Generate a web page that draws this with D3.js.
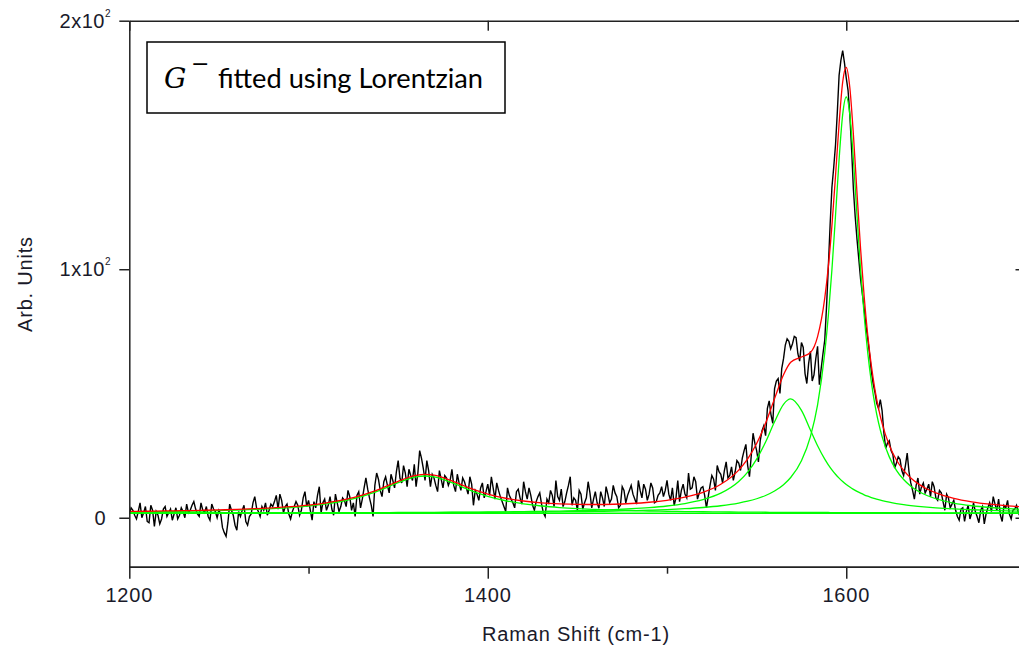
<!DOCTYPE html>
<html><head><meta charset="utf-8">
<script src="https://cdn.jsdelivr.net/npm/d3@7"></script>
<style>body{margin:0;background:#fff;} svg{display:block;}</style>
</head><body>
<svg id="c" width="1019" height="652"></svg>
<script>
// ---------- DATA ----------
// measured spectrum, 1 cm-1 sampling split into even (1200,1202,...) and odd (1201,1203,...) positions
const dataStart = 1200;
const spectrumEven = [
 1.5,3.0,-0.5,6.0,2.0,-1.5,5.0,-3.5,1.0,-0.5,
 4.5,2.0,-1.0,4.0,1.0,2.5,5.5,3.0,6.5,1.5,
 6.0,2.0,0.5,5.5,2.5,3.0,-4.0,-7.5,5.5,1.0,
 -5.0,0.5,5.0,-3.0,1.5,8.5,2.5,4.5,6.0,3.0,
 4.5,9.0,9.5,2.0,5.5,-0.5,4.5,5.0,3.0,10.5,
 7.0,-1.0,4.0,12.5,6.0,3.0,8.5,1.0,6.0,4.5,
 7.0,11.0,3.0,0.5,10.5,7.5,16.0,8.0,0.5,18.0,
 11.0,14.5,13.0,17.5,12.0,23.0,14.0,18.0,19.5,15.0,
 12.5,27.0,20.0,23.0,12.5,16.0,10.5,15.5,17.0,13.0,
 19.5,10.5,14.0,16.0,12.0,16.5,5.0,9.5,12.0,8.0,
 13.5,16.5,7.5,11.0,6.5,2.5,9.0,6.0,10.5,8.0,
 14.5,7.5,9.0,3.0,8.5,5.5,0.5,6.0,9.0,15.0,
 7.0,4.5,10.0,16.5,8.0,3.0,9.5,6.0,14.5,4.0,
 10.5,3.8,8.0,12.5,6.0,13.0,8.5,5.0,11.0,9.0,
 13.0,7.5,15.0,8.0,11.5,9.5,12.0,6.5,10.0,8.5,
 15.0,7.0,5.0,15.0,11.0,9.5,18.0,12.0,14.5,10.0,
 12.5,4.0,13.0,15.5,21.0,17.5,19.0,16.0,20.5,18.5,
 22.0,24.0,29.5,16.5,34.0,27.0,31.0,37.0,44.0,41.5,
 52.0,56.0,60.0,69.5,71.0,70.0,72.5,63.0,68.5,54.0,
 67.0,57.5,69.0,60.0,71.5,101.0,133.0,150.0,178.0,188.0,
 177.0,162.0,132.0,112.0,96.0,84.0,72.0,59.0,50.5,44.0,
 43.0,28.0,31.0,25.5,22.0,23.5,17.0,26.0,14.0,7.5,
 16.0,12.5,10.0,13.5,14.5,8.0,11.0,6.5,9.5,4.0,
 7.0,0.5,3.5,-1.5,5.0,2.0,2.5,-2.0,4.5,1.5,
 6.0,8.5,3.0,1.0,5.0,7.0,-0.5,3.5,2.0,5.5,
 3.0
];
const spectrumOdd = [
 4.0,1.0,2.5,0.0,4.5,-2.0,3.0,2.5,-2.5,3.5,
 0.5,3.5,1.5,-0.5,4.0,0.0,2.0,5.0,3.5,0.5,
 3.0,4.5,-1.0,3.5,0.0,1.5,-6.0,-2.0,3.0,-3.0,
 2.5,3.0,-1.5,0.5,6.0,4.0,0.5,3.0,1.0,5.5,
 6.5,3.5,7.0,4.5,1.5,2.5,6.5,1.0,8.0,4.5,
 3.0,6.5,9.0,2.0,7.5,5.0,3.5,9.5,2.5,8.0,
 4.5,8.5,6.0,9.0,4.0,12.0,11.5,5.0,13.0,15.5,
 8.5,16.5,10.0,15.0,18.5,16.0,21.0,12.5,17.0,21.5,
 18.0,24.0,15.0,19.0,17.5,13.0,19.0,12.0,16.0,15.0,
 13.0,17.5,11.0,14.5,9.5,13.5,11.0,7.0,14.0,10.5,
 9.0,12.0,14.0,8.5,4.5,12.0,7.5,4.0,11.5,5.5,
 10.5,12.0,5.0,6.5,10.0,2.0,7.5,11.0,4.5,8.5,
 11.5,6.5,13.0,5.0,7.0,11.0,3.5,8.0,10.0,7.5,
 6.0,10.5,4.5,9.5,7.5,10.0,4.0,12.5,6.0,11.0,
 9.5,5.5,11.0,13.5,7.0,14.0,6.0,9.0,12.5,11.0,
 9.5,12.0,8.0,6.5,13.5,8.0,11.5,16.5,7.5,12.0,
 9.0,8.5,17.0,11.0,18.5,14.0,22.5,17.0,15.0,23.0,
 19.0,27.0,21.0,25.0,30.0,22.5,35.0,33.0,47.0,38.0,
 55.0,50.0,64.0,72.0,68.0,73.0,66.0,70.5,58.0,62.0,
 55.0,64.0,53.5,66.0,85.0,118.0,141.0,163.0,184.0,183.0,
 172.0,148.0,121.0,104.0,90.0,77.0,66.0,54.0,46.0,47.5,
 34.0,30.0,27.0,20.0,24.5,19.0,21.0,18.5,11.0,13.0,
 9.5,14.0,11.5,8.5,12.5,7.0,10.0,3.0,8.0,5.5,
 3.0,-1.0,4.0,2.5,-0.5,6.0,0.5,3.0,-2.5,4.0,
 2.5,5.5,7.5,-1.5,4.0,1.5,3.0,5.0,0.5,4.0
];

const fitX = [1200,1210,1220,1230,1240,1250,1260,1270,1280,1290,1300,1310,1320,1330,1340,1350,1360,1365,1370,1380,1390,1400,1410,1420,1430,1440,1450,1460,1470,1480,1490,1500,1510,1520,1530,1540,1545,1550,1555,1560,1565,1569,1575,1580,1584,1588,1590,1592,1594,1596,1598,1600,1602,1604,1606,1608,1610,1612,1614,1616,1618,1620,1624,1628,1632,1636,1640,1645,1650,1660,1670,1680,1690,1700];
const fitD = [2.34,2.41,2.50,2.60,2.72,2.88,3.07,3.33,3.66,4.11,4.72,5.60,6.84,8.63,11.12,14.10,16.45,16.80,16.45,14.10,11.12,8.63,6.84,5.60,4.72,4.11,3.66,3.33,3.07,2.88,2.72,2.60,2.50,2.41,2.34,2.29,2.26,2.24,2.21,2.19,2.17,2.16,2.14,2.13,2.11,2.10,2.10,2.09,2.09,2.08,2.08,2.07,2.07,2.07,2.06,2.06,2.05,2.05,2.04,2.04,2.04,2.03,2.03,2.02,2.01,2.01,2.00,1.99,1.99,1.97,1.96,1.95,1.95,1.94];
const fitGminus = [1.91,1.92,1.92,1.93,1.94,1.95,1.96,1.97,1.98,1.99,2.01,2.02,2.04,2.06,2.08,2.11,2.14,2.16,2.17,2.21,2.26,2.32,2.38,2.46,2.56,2.68,2.83,3.02,3.27,3.61,4.07,4.73,5.72,7.27,9.88,14.59,18.36,23.56,30.46,38.60,45.65,47.80,43.20,35.30,28.95,23.56,21.28,19.27,17.50,15.95,14.59,13.40,12.35,11.42,10.60,9.88,9.23,8.66,8.14,7.68,7.27,6.89,6.25,5.72,5.27,4.90,4.58,4.24,3.96,3.53,3.22,2.98,2.78,2.65];
const fitGplus = [1.89,1.90,1.91,1.91,1.92,1.92,1.93,1.94,1.95,1.96,1.97,1.98,1.99,2.01,2.02,2.04,2.06,2.07,2.09,2.11,2.14,2.18,2.22,2.27,2.32,2.39,2.47,2.57,2.69,2.84,3.04,3.30,3.65,4.13,4.83,5.90,6.65,7.64,8.95,10.74,13.30,16.18,22.93,32.64,45.45,66.33,81.26,99.80,121.5,144.1,162.2,169.3,162.2,144.1,121.5,99.80,81.26,66.33,54.6,45.45,38.29,32.64,24.49,19.09,15.37,12.71,10.74,8.95,7.64,5.90,4.83,4.13,3.65,3.30];
const fitTotal = [2.54,2.62,2.73,2.84,2.97,3.15,3.36,3.64,3.99,4.46,5.09,6.00,7.27,9.10,11.63,14.65,17.05,17.43,17.11,14.83,11.92,9.53,7.84,6.73,6.00,5.58,5.36,5.32,5.43,5.73,6.23,7.03,8.27,10.21,13.45,19.18,23.67,29.84,38.02,47.93,57.52,62.54,64.67,66.47,72.91,88.39,101.04,117.56,137.49,158.53,175.27,181.17,173.02,153.99,130.56,108.14,88.94,73.44,61.18,51.57,44.0,37.96,29.17,23.23,19.05,16.02,13.72,11.58,9.99,7.80,6.41,5.46,4.78,4.29];
const baselineLevel = 1.8;

const xMajorTicks = [1200,1400,1600];
const xMinorTicks = [1300,1500];
const yMajorTicks = [0,100,200];
const yTickLabels = [["0",""],["1x10","2"],["2x10","2"]];
const xTitle = "Raman Shift (cm-1)";
const yTitle = "Arb. Units";

// ---------- CHART ----------
const svg = d3.select("#c");
const L = 129.3, R = 1025.5, T = 20.7, B = 566.7;
const x = d3.scaleLinear().domain([1200,1700]).range([L,R]);
const y = d3.scaleLinear().domain([-19.7,200]).range([B,T]);
const axisColor = "#222";
const fontFam = "'Liberation Sans', Arial, sans-serif";
const textColor = "#1a1a2a";

svg.append("defs").append("clipPath").attr("id","plot")
  .append("rect").attr("x",L).attr("y",T).attr("width",R-L).attr("height",B-T);

const plot = svg.append("g").attr("clip-path","url(#plot)");

const dataPts = [];
spectrumEven.forEach((v,i)=>{
  dataPts.push([dataStart+2*i, v]);
  if(i < spectrumOdd.length) dataPts.push([dataStart+2*i+1, spectrumOdd[i]]);
});
const lineRaw = d3.line().x(d=>x(d[0])).y(d=>y(d[1]));
const lineFit = d3.line().x(d=>x(d[0])).y(d=>y(d[1])).curve(d3.curveMonotoneX);

plot.append("path").datum(dataPts).attr("d",lineRaw)
  .attr("fill","none").attr("stroke","#000").attr("stroke-width",1.4).attr("stroke-linejoin","miter");

[fitD, fitGminus, fitGplus].forEach(arr=>{
  plot.append("path").datum(fitX.map((v,i)=>[v,arr[i]])).attr("d",lineFit)
    .attr("fill","none").attr("stroke","#00ff00").attr("stroke-width",1.3);
});
plot.append("path").datum([[1200,baselineLevel],[1700,baselineLevel]]).attr("d",lineRaw)
  .attr("fill","none").attr("stroke","#00ff00").attr("stroke-width",1.3);
plot.append("path").datum(fitX.map((v,i)=>[v,fitTotal[i]])).attr("d",lineFit)
  .attr("fill","none").attr("stroke","#ff0000").attr("stroke-width",1.3);

// axes
function styleAxis(g){
  g.select(".domain").attr("stroke",axisColor).attr("stroke-width",1.5);
  g.selectAll(".tick line").attr("stroke",axisColor).attr("stroke-width",1.5);
  g.selectAll("text").remove();
}
svg.append("g").attr("transform",`translate(0,${B})`)
  .call(d3.axisBottom(x).tickValues(xMinorTicks).tickSize(7).tickSizeOuter(0)).call(styleAxis);
svg.append("g").attr("transform",`translate(0,${B})`)
  .call(d3.axisBottom(x).tickValues(xMajorTicks).tickSize(12).tickSizeOuter(0)).call(styleAxis);
svg.append("g").attr("transform",`translate(0,${T})`)
  .call(d3.axisTop(x).tickValues(xMajorTicks).tickSize(-10).tickSizeOuter(0)).call(styleAxis);
svg.append("g").attr("transform",`translate(${L},0)`)
  .call(d3.axisLeft(y).tickValues(yMajorTicks).tickSize(10).tickSizeOuter(0)).call(styleAxis);
svg.append("g").attr("transform",`translate(${R},0)`)
  .call(d3.axisRight(y).tickValues(yMajorTicks).tickSize(-10).tickSizeOuter(0)).call(styleAxis);

// x tick labels
svg.append("g").selectAll("text").data(xMajorTicks).join("text")
  .attr("x",d=>x(d)).attr("y",B+35).attr("text-anchor","middle")
  .attr("font-family",fontFam).attr("font-size",20).attr("letter-spacing","0.8px")
  .attr("fill",textColor).text(d=>String(d));

// y tick labels
yMajorTicks.forEach((v,i)=>{
  const lab = yTickLabels[i];
  const t = svg.append("text").attr("x", lab[1] ? 111 : 106).attr("y", y(v)+7)
    .attr("text-anchor","end").attr("font-family",fontFam).attr("font-size",20)
    .attr("letter-spacing","0.5px").attr("fill",textColor);
  t.append("tspan").text(lab[0]);
  if(lab[1]) t.append("tspan").attr("dy",-11).attr("font-size",10).text(lab[1]);
});

// titles
svg.append("text").attr("x",576).attr("y",641).attr("text-anchor","middle")
  .attr("font-family",fontFam).attr("font-size",20).attr("letter-spacing","0.8px")
  .attr("fill",textColor).text(xTitle);
svg.append("text").attr("transform",`translate(32,284) rotate(-90)`).attr("text-anchor","middle")
  .attr("font-family",fontFam).attr("font-size",20).attr("letter-spacing","0.8px")
  .attr("fill",textColor).text(yTitle);

// annotation box
const box = svg.append("g");
box.append("rect").attr("x",147).attr("y",42).attr("width",358).attr("height",71)
  .attr("fill","#fff").attr("stroke","#000").attr("stroke-width",1.5);
box.append("text").attr("x",164).attr("y",88)
  .attr("font-family","'DejaVu Serif','Liberation Serif',serif").attr("font-style","italic")
  .attr("font-size",28).attr("fill","#000").text("G");
box.append("text").attr("x",191).attr("y",71)
  .attr("font-family","'DejaVu Sans', sans-serif").attr("font-size",22).attr("fill","#000").text("\u2212");
const mainT = box.append("text").attr("x",218).attr("y",88)
  .attr("font-family","Lato, 'Open Sans', sans-serif").attr("font-size",27.5).attr("fill","#000")
  .text("fitted using Lorentzian");
const w = mainT.node().getComputedTextLength();
if (w > 0) mainT.attr("font-size", 27.5 * 265 / w);
</script>
</body></html>
